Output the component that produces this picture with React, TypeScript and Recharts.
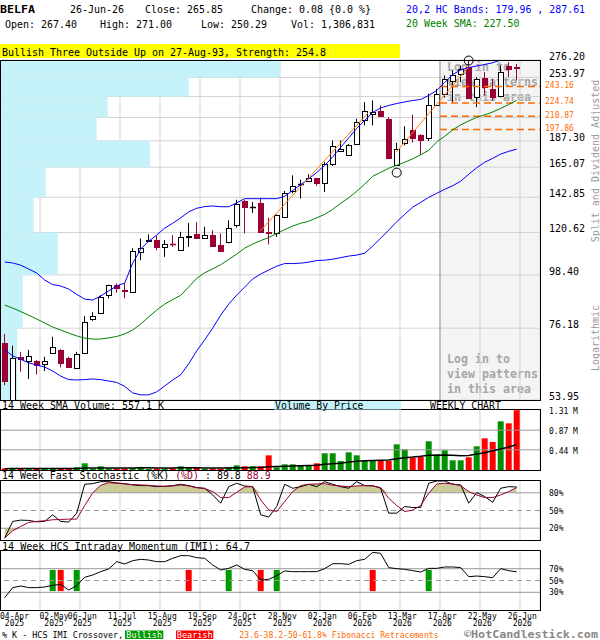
import React from "react";
import {
  ComposedChart,
  Bar,
  Line,
  Area,
  XAxis,
  YAxis,
  CartesianGrid,
  ReferenceArea,
  ReferenceLine,
  ReferenceDot,
  Cell,
} from "recharts";

const MONO = '"DejaVu Sans Mono", monospace';
const RED_CANDLE = "#990033";
const UP_GREEN = "#009000";
const DOWN_RED = "#ff0000";
const GRID = "#d3d3d3";
const RULE = "#999999";
const FIB = "#ff6a00";

// weekly candles, 04-Apr-2025 .. 26-Jun-2026
const opens = [
  71.1, 54.0, 66.4, 65.0, 65.1, 64.1, 67.5, 68.6, 65.9, 62.8,
  67.5, 79.7, 82.0, 89.5, 93.6, 91.5, 90.5, 110.0, 115.9, 116.3,
  112.3, 114.4, 110.8, 118.3, 119.7, 117.5, 119.1, 113.5, 115.0, 124.9,
  140.1, 136.2, 139.3, 121.0, 120.1, 129.9, 147.2, 151.9, 154.3, 156.5,
  152.7, 167.4, 178.7, 175.3, 184.8, 206.6, 212.7, 215.8, 207.6, 166.6,
  185.3, 197.7, 193.0, 190.3, 222.8, 234.1, 249.5, 258.5, 266.8, 230.7,
  253.6, 240.6, 232.9, 268.1, 267.4,
];
const highs = [
  74.1, 70.0, 68.0, 68.6, 65.4, 66.4, 73.1, 68.9, 66.4, 68.0,
  80.7, 82.2, 89.2, 93.9, 94.5, 94.5, 111.8, 117.2, 119.5, 118.7,
  116.3, 119.1, 121.0, 126.2, 126.8, 124.0, 122.0, 120.1, 127.9, 141.2,
  141.2, 139.6, 142.6, 129.6, 131.5, 147.2, 158.7, 155.5, 159.5, 156.7,
  169.2, 187.7, 187.7, 184.5, 208.3, 225.6, 227.4, 222.0, 209.9, 185.7,
  201.0, 212.4, 193.5, 234.9, 240.6, 256.4, 262.6, 269.0, 275.5, 254.3,
  260.5, 252.4, 269.0, 273.3, 271.0,
];
const lows = [
  57.9, 54.0, 61.8, 59.7, 61.0, 62.0, 67.3, 63.1, 63.1, 62.6,
  67.3, 78.9, 81.5, 87.9, 90.3, 87.9, 90.3, 105.6, 115.4, 110.8,
  107.3, 112.6, 110.6, 112.6, 117.4, 117.3, 113.0, 110.3, 114.5, 123.5,
  120.1, 132.5, 121.0, 113.9, 118.1, 129.5, 145.6, 142.0, 154.0, 150.9,
  146.5, 166.0, 178.5, 175.1, 184.5, 201.7, 201.7, 209.9, 172.5, 166.0,
  183.3, 185.7, 175.3, 187.1, 222.0, 230.7, 225.6, 248.3, 229.7, 220.2,
  232.9, 227.4, 230.7, 254.3, 250.29,
];
const closes = [
  59.2, 65.9, 65.8, 66.7, 63.8, 65.1, 69.5, 64.4, 63.3, 67.3,
  78.3, 80.7, 88.5, 93.6, 92.4, 90.9, 110.3, 111.8, 116.1, 112.3,
  113.9, 113.9, 118.1, 118.5, 117.6, 119.1, 113.2, 110.4, 123.5, 138.6,
  136.3, 136.4, 121.0, 120.4, 131.4, 145.6, 151.1, 152.1, 157.0, 152.7,
  167.9, 182.4, 180.5, 183.9, 204.9, 215.8, 215.0, 210.9, 172.5, 180.5,
  189.2, 189.8, 187.7, 222.8, 234.9, 252.4, 256.4, 264.8, 229.9, 252.4,
  242.4, 230.7, 261.3, 264.8, 265.85,
];
const upperBand = [
  104.7, 104.2, 103.1, 101.2, 99.3, 96.0, 93.9, 93.3, 91.9, 89.6,
  87.6, 87.2, 88.9, 91.1, 93.3, 94.6, 104.1, 111.3, 115.7, 119.1,
  123.2, 126.1, 129.4, 133.2, 135.5, 136.6, 137.0, 136.5, 136.5, 139.1,
  141.9, 141.9, 141.9, 141.9, 141.9, 143.5, 147.7, 151.7, 156.0, 160.9,
  166.3, 173.5, 181.6, 190.0, 198.9, 206.6, 214.7, 219.4, 222.0, 224.1,
  225.8, 227.4, 228.5, 232.9, 238.6, 247.9, 257.6, 263.2, 266.4, 268.3,
  270.3, 272.6, 276.2, 280.8, 287.61,
];
const lowerBand = [
  68.6, 66.7, 65.6, 64.5, 63.8, 63.2, 62.0, 60.5, 59.5, 59.4,
  59.5, 59.7, 59.5, 59.1, 58.7, 57.6, 55.8, 55.3, 55.3, 56.1,
  57.7, 59.4, 60.9, 64.2, 68.3, 72.0, 76.2, 81.1, 85.5, 89.3,
  92.8, 96.5, 98.8, 100.7, 102.6, 103.9, 103.9, 104.1, 104.6, 105.4,
  105.6, 106.1, 106.9, 107.7, 108.2, 109.2, 113.0, 117.4, 122.0, 127.0,
  131.6, 136.2, 139.4, 142.8, 145.6, 148.4, 151.0, 154.3, 159.5, 164.6,
  169.0, 172.2, 175.8, 178.1, 179.96,
];
const sma20 = [
  85.1, 83.9, 82.5, 81.1, 79.6, 78.1, 76.6, 75.5, 74.4, 73.4,
  72.6, 72.3, 72.3, 72.7, 73.2, 74.1, 75.5, 77.7, 80.4, 83.1,
  85.5, 87.4, 89.2, 92.8, 96.8, 99.4, 101.3, 103.3, 106.0, 108.7,
  111.9, 114.1, 116.0, 117.7, 120.0, 122.3, 124.4, 126.1, 127.3, 129.4,
  131.6, 134.8, 138.8, 142.5, 147.0, 152.1, 158.0, 161.0, 164.2, 166.6,
  169.0, 171.8, 175.2, 179.0, 186.4, 191.4, 197.5, 202.2, 206.1, 209.6,
  212.2, 215.2, 218.9, 223.1, 227.5,
];
// millions of shares
const volume = [
  0.036, 0.036, 0.029, 0.029, 0.029, 0.029, 0.029, 0.029, 0.029, 0.058,
  0.146, 0.029, 0.08, 0.029, 0.029, 0.029, 0.036, 0.058, 0.029, 0.029,
  0.029, 0.036, 0.08, 0.058, 0.058, 0.029, 0.029, 0.029, 0.058, 0.102,
  0.08, 0.08, 0.08, 0.32, 0.058, 0.124, 0.124, 0.109, 0.087, 0.146,
  0.365, 0.365, 0.196, 0.386, 0.321, 0.196, 0.196, 0.196, 0.196, 0.561,
  0.452, 0.269, 0.284, 0.627, 0.343, 0.43, 0.212, 0.212, 0.277, 0.517,
  0.692, 0.611, 1.063, 1.019, 1.307,
];
const volumeSma14 = [
  0.03, 0.031, 0.031, 0.031, 0.031, 0.031, 0.031, 0.031, 0.031, 0.033,
  0.041, 0.041, 0.045, 0.045, 0.045, 0.045, 0.045, 0.047, 0.047, 0.046,
  0.046, 0.046, 0.049, 0.05, 0.05, 0.045, 0.042, 0.042, 0.043, 0.048,
  0.05, 0.052, 0.055, 0.073, 0.075, 0.08, 0.087, 0.092, 0.097, 0.105,
  0.125, 0.138, 0.15, 0.172, 0.19, 0.204, 0.21, 0.214, 0.218, 0.247,
  0.27, 0.282, 0.299, 0.32, 0.322, 0.328, 0.322, 0.313, 0.318, 0.349,
  0.378, 0.42, 0.458, 0.5, 0.557,
];
const stochK = [
  3.4, 31.5, 33.7, 33.2, 30.9, 31.5, 42.7, 31.5, 30.4, 45.5,
  94.4, 95.5, 98.9, 98.9, 96.7, 95.5, 93.3, 92.2, 92.2, 90.4,
  91.0, 92.2, 94.4, 92.2, 88.8, 87.7, 76.4, 62.4, 90.4, 96.1,
  91.6, 90.4, 42.7, 38.8, 56.8, 94.4, 87.7, 90.4, 94.4, 90.4,
  98.9, 94.4, 90.4, 87.7, 98.9, 92.2, 92.2, 87.7, 45.5, 45.5,
  56.8, 55.1, 55.1, 96.1, 100, 100, 94.4, 93.3, 62.4, 80.3,
  73.6, 64.0, 87.7, 90.4, 89.8,
];
const stochD = [
  3.4, 15.7, 23.0, 29.8, 31.5, 32.6, 34.3, 34.8, 35.4, 35.4,
  58.5, 79.8, 92.7, 97.2, 96.1, 95.0, 93.9, 93.3, 92.7, 91.6,
  91.0, 91.6, 93.3, 91.6, 88.8, 87.1, 82.1, 71.9, 71.9, 80.9,
  89.9, 90.4, 68.0, 51.1, 48.3, 65.2, 82.1, 92.2, 94.4, 95.0,
  95.5, 92.7, 91.6, 90.4, 91.6, 92.2, 91.6, 88.8, 70.8, 58.5,
  48.3, 50.6, 58.5, 79.3, 95.0, 96.1, 95.0, 92.2, 82.1, 76.4,
  71.9, 71.9, 76.4, 82.1, 88.9,
];
const imi = [
  20.9, 37.9, 40.7, 37.9, 37.9, 39.0, 41.8, 43.5, 33.9, 41.2,
  55.4, 59.3, 65.0, 69.5, 81.9, 78.0, 83.6, 85.9, 84.7, 81.9,
  81.9, 87.6, 92.1, 92.1, 88.7, 87.6, 76.3, 67.8, 70.6, 76.3,
  68.9, 66.7, 50.8, 52.0, 58.2, 66.1, 65.0, 65.0, 65.0, 65.0,
  70.1, 78.5, 78.5, 77.4, 83.6, 85.9, 97.7, 96.0, 71.8, 70.1,
  68.9, 66.7, 64.4, 70.6, 70.6, 72.9, 72.9, 71.8, 56.5, 57.6,
  56.5, 54.8, 70.1, 66.7, 64.7,
];
const bullishWeeks = [6, 9, 28, 34, 53];
const bearishWeeks = [7, 23, 32, 46];

const priceTicks = [53.95, 76.18, 98.4, 120.62, 142.85, 165.07, 187.3, 209.52, 231.75, 253.97, 276.2];
const hiddenPriceLabels = [209.52, 231.75];
// volume by price, one value per band between price ticks (millions)
const vbpVolume = [1.73, 2.27, 5.77, 3.37, 4.57, 15.0, 9.67, 10.77, 18.87, 28.0];
const VBP_FULL_SCALE = 54;
const fibLevels = [243.16, 224.74, 210.87, 197.86];
const volumeTicks = [0.44, 0.87, 1.31];
const stochTicks = [20, 50, 80];
const imiTicks = [30, 50, 70];
const dateLabels = ["04-Apr", "02-May", "06-Jun", "11-Jul", "15-Aug", "19-Sep", "24-Oct", "28-Nov", "02-Jan", "06-Feb", "13-Mar", "17-Apr", "22-May", "26-Jun"];
const yearLabels = ["2025", "2025", "2025", "2025", "2025", "2025", "2025", "2025", "2026", "2026", "2026", "2026", "2026", "2026"];
const trendLines = [
  [{ x: 31.9, y: 121.3 }, { x: 45.4, y: 214.0 }],
  [{ x: 48.95, y: 177.5 }, { x: 57.95, y: 266.8 }],
];
const pivotMarks = [{ x: 49, y: 160.8 }, { x: 58, y: 275.5 }];

const X_DOMAIN: [number, number] = [-0.5875, 66.9125];
const gridWeeks = dateLabels.map((_, j) => X_DOMAIN[0] + j * 5);
const hiddenStart = gridWeeks[11];
// volume-by-price bars share the week axis: full scale spans the whole plot width
const vbpToWeeks = (v: number) => X_DOMAIN[0] + (v / VBP_FULL_SCALE) * (X_DOMAIN[1] - X_DOMAIN[0]);

const rows = opens.map((open, i) => {
  const signal = bullishWeeks.includes(i) || bearishWeeks.includes(i);
  return {
    i,
    open,
    high: highs[i],
    low: lows[i],
    close: closes[i],
    range: [lows[i], highs[i]],
    upper: upperBand[i],
    lower: lowerBand[i],
    sma: sma20[i],
    vol: volume[i],
    volSma: volumeSma14[i],
    k: stochK[i],
    d: stochD[i],
    over: [80, Math.max(80, stochD[i])],
    under: [Math.min(20, stochD[i]), 20],
    imi: imi[i],
    cross: signal ? [32, 68] : null,
    bull: bullishWeeks.includes(i),
  };
});

const renderCandle = (props: any) => {
  const { x, y, width, height, payload } = props;
  if (!payload || !Number.isFinite(y) || !Number.isFinite(height)) return <g />;
  const top = Math.min(y, y + height);
  const h = Math.abs(height);
  const { open, high, low, close } = payload;
  const span = Math.log(high / low) || 1;
  const at = (v: number) => top + (h * Math.log(high / v)) / span;
  const up = close >= open;
  const color = up ? "#000" : RED_CANDLE;
  const left = Math.round(x + width / 2 - 3) + 0.5;
  const wx = left + 2;
  const bTop = Math.round(at(Math.max(open, close))) + 0.5;
  const bBot = Math.round(at(Math.min(open, close))) + 0.5;
  return (
    <g>
      <line x1={wx} x2={wx} y1={top} y2={top + h} stroke={color} strokeWidth={1} />
      {bBot - bTop < 1 ? (
        <line x1={left - 0.5} x2={left + 5.5} y1={bTop} y2={bTop} stroke={color} strokeWidth={1.5} />
      ) : (
        <rect x={left} y={bTop} width={5} height={bBot - bTop} fill={up ? "#fff" : RED_CANDLE} stroke={color} strokeWidth={1} />
      )}
    </g>
  );
};

const PriceTick = (p: any) => {
  const v = p.payload.value;
  if (hiddenPriceLabels.includes(v)) return <g />;
  return (
    <text x={p.x + 1} y={p.y} fontSize={10} fontFamily={MONO} fill="#000">
      {v.toFixed(2)}
    </text>
  );
};
const VolumeTick = (p: any) => (
  <text x={p.x + 1} y={p.y + 4} fontSize={8} fontFamily={MONO} fill="#000">
    {p.payload.value.toFixed(2)} M
  </text>
);
const PctTick = (p: any) => (
  <text x={p.x + 1} y={p.y + 3} fontSize={8} fontFamily={MONO} fill="#000">
    {p.payload.value}%
  </text>
);
const DateTick = (p: any) => {
  const j = p.index ?? p.payload.index;
  const cx = j === 0 ? p.x + 14.5 : j === 1 ? p.x + 14 : p.x + 2.3;
  return (
    <g fontFamily={MONO} fontSize={8} fill="#000">
      <text x={cx} y={p.y + 0.8} textAnchor="middle">{dateLabels[j]}</text>
      <text x={cx} y={p.y + 8.3} textAnchor="middle">{yearLabels[j]}</text>
    </g>
  );
};
const FibLabel = (p: any) => {
  const vb = p.viewBox || {};
  return (
    <text x={(vb.x || 0) + (vb.width || 0) + 5} y={(vb.y || 0) + 1.5} fontSize={8} fontFamily={MONO} fill={FIB}>
      {p.value}
    </text>
  );
};

const weekAxis = (hide: boolean, extra: any = {}) => (
  <XAxis dataKey="i" type="number" domain={X_DOMAIN} ticks={gridWeeks} interval={0} hide={hide} {...extra} />
);

const PriceChart = () => (
  <ComposedChart width={600} height={410} data={rows} margin={{ top: 60, right: 0, bottom: 10, left: 0 }}>
    <CartesianGrid stroke={GRID} />
    {weekAxis(true)}
    <YAxis
      orientation="right"
      type="number"
      scale="log"
      domain={[53.95, 276.2]}
      allowDataOverflow
      ticks={priceTicks}
      interval={0}
      width={60}
      axisLine={false}
      tickLine={false}
      tick={PriceTick}
    />
    {vbpVolume.map((v, n) => (
      <ReferenceArea
        key={`vbp${n}`}
        x1={X_DOMAIN[0]}
        x2={vbpToWeeks(v)}
        y1={priceTicks[n]}
        y2={priceTicks[n + 1]}
        fill="#c6f3fa"
        fillOpacity={1}
        stroke="none"
      />
    ))}
    <ReferenceLine x={hiddenStart} stroke={RULE} />
    {fibLevels.map((f) => (
      <ReferenceLine
        key={`fib${f}`}
        segment={[{ x: hiddenStart, y: f }, { x: X_DOMAIN[1], y: f }]}
        stroke={FIB}
        strokeWidth={1.5}
        strokeDasharray="7 4"
        label={<FibLabel value={f.toFixed(2)} />}
      />
    ))}
    <Line dataKey="upper" stroke="#0000ff" strokeWidth={1} dot={false} isAnimationActive={false} />
    <Line dataKey="lower" stroke="#0000ff" strokeWidth={1} dot={false} isAnimationActive={false} />
    <Line dataKey="sma" stroke="#008000" strokeWidth={1} dot={false} isAnimationActive={false} />
    {trendLines.map((seg, n) => (
      <ReferenceLine key={`tl${n}`} segment={seg} stroke="#ff7a1a" strokeWidth={1} />
    ))}
    <Bar dataKey="range" barSize={6} shape={renderCandle} isAnimationActive={false} />
    {pivotMarks.map((m, n) => (
      <ReferenceDot key={`pv${n}`} x={m.x} y={m.y} r={4.5} fill="none" stroke="#000" strokeWidth={1} ifOverflow="visible" />
    ))}
  </ComposedChart>
);

const VolumeChart = () => (
  <ComposedChart width={600} height={70} data={rows} margin={{ top: 10, right: 0, bottom: 0, left: 0 }}>
    <CartesianGrid stroke={GRID} horizontal={false} />
    {weekAxis(true)}
    <YAxis
      orientation="right"
      type="number"
      domain={[0, 1.31]}
      allowDataOverflow
      ticks={volumeTicks}
      interval={0}
      width={60}
      axisLine={false}
      tickLine={false}
      tick={VolumeTick}
    />
    {volumeTicks.slice(0, 2).map((v) => (
      <ReferenceLine key={`vl${v}`} y={v} stroke={RULE} />
    ))}
    <Bar dataKey="vol" barSize={6} isAnimationActive={false}>
      {rows.map((r) => (
        <Cell key={`vc${r.i}`} fill={r.close >= r.open ? UP_GREEN : DOWN_RED} />
      ))}
    </Bar>
    <Line dataKey="volSma" stroke="#000" strokeWidth={1.5} dot={false} isAnimationActive={false} />
  </ComposedChart>
);

const StochChart = () => (
  <ComposedChart width={600} height={70} data={rows} margin={{ top: 11, right: 0, bottom: 0, left: 0 }}>
    <CartesianGrid stroke={GRID} horizontal={false} />
    {weekAxis(true)}
    <YAxis
      orientation="right"
      type="number"
      domain={[0, 100]}
      ticks={stochTicks}
      interval={0}
      width={60}
      axisLine={false}
      tickLine={false}
      tick={PctTick}
    />
    <ReferenceLine y={20} stroke={RULE} />
    <ReferenceLine y={80} stroke={RULE} />
    <ReferenceLine y={50} stroke={RULE} strokeDasharray="5 4" />
    <Area dataKey="over" fill="#cccc99" fillOpacity={1} stroke="none" isAnimationActive={false} />
    <Area dataKey="under" fill="#cccc99" fillOpacity={1} stroke="none" isAnimationActive={false} />
    <Line dataKey="k" stroke="#000" strokeWidth={1} dot={false} isAnimationActive={false} />
    <Line dataKey="d" stroke={RED_CANDLE} strokeWidth={1} dot={false} isAnimationActive={false} />
  </ComposedChart>
);

const ImiChart = () => (
  <ComposedChart width={600} height={100} data={rows} margin={{ top: 11, right: 0, bottom: 0, left: 0 }}>
    <CartesianGrid stroke={GRID} horizontal={false} />
    {weekAxis(false, { height: 30, axisLine: false, tickLine: false, tick: DateTick })}
    <YAxis
      orientation="right"
      type="number"
      domain={[0, 100]}
      ticks={imiTicks}
      interval={0}
      width={60}
      axisLine={false}
      tickLine={false}
      tick={PctTick}
    />
    <ReferenceLine y={30} stroke={RULE} />
    <ReferenceLine y={70} stroke={RULE} />
    <ReferenceLine y={50} stroke={RULE} strokeDasharray="5 4" />
    <Bar dataKey="cross" barSize={6} isAnimationActive={false}>
      {rows.map((r) => (
        <Cell key={`ic${r.i}`} fill={r.bull ? "#009900" : DOWN_RED} />
      ))}
    </Bar>
    <Line dataKey="imi" stroke="#000" strokeWidth={1} dot={false} isAnimationActive={false} />
  </ComposedChart>
);

const T = ({ x, y, s, size = 10, cw = 6, ...rest }: any) => (
  <text x={x} y={y} fontSize={size} textLength={s.length * cw} lengthAdjust="spacingAndGlyphs" {...rest}>
    {s}
  </text>
);

const BackLayer = () => (
  <svg width={600} height={640} style={{ position: "absolute", left: 0, top: 0 }} fontFamily={MONO}>
    <rect x={440} y={60} width={100} height={340} fill="#f4f4f4" />
    <g fill="#a6a6a6" fontWeight="bold">
      <T x={447} y={71} s="Log in to" size={11.5} cw={7} />
      <T x={447} y={86} s="view patterns" size={11.5} cw={7} />
      <T x={447} y={101} s="in this area" size={11.5} cw={7} />
      <T x={447} y={363} s="Log in to" size={11.5} cw={7} />
      <T x={447} y={378} s="view patterns" size={11.5} cw={7} />
      <T x={447} y={393} s="in this area" size={11.5} cw={7} />
    </g>
  </svg>
);

const STOCH_CW = 5.97;

const FrontLayer = () => (
  <svg width={600} height={640} style={{ position: "absolute", left: 0, top: 0, pointerEvents: "none" }} fontFamily={MONO}>
    <g fill="#000">
      <T x={0} y={13} s="BELFA" size={11} cw={7} fontWeight="bold" />
      <T x={70} y={13} s="26-Jun-26" size={11} />
      <T x={145} y={13} s="Close: 265.85" size={11} />
      <T x={251} y={13} s="Change: 0.08 {0.0 %}" size={11} />
      <T x={5} y={28} s="Open: 267.40" size={11} />
      <T x={100} y={28} s="High: 271.00" size={11} />
      <T x={201} y={28} s="Low: 250.29" size={11} />
      <T x={291} y={28} s="Vol: 1,306,831" size={11} />
    </g>
    <T x={406} y={12.5} s="20,2 HC Bands: 179.96 , 287.61" size={10.5} cw={5.97} fill="#0000ff" />
    <T x={406} y={26.5} s="20 Week SMA: 227.50" size={10.5} cw={5.97} fill="#008000" />
    <rect x={0} y={44} width={400} height={14} fill="#ffff00" />
    <T x={2} y={55.5} s="Bullish Three Outside Up on 27-Aug-93, Strength: 254.8" size={10.5} cw={6} fill="#000" />

    <rect x={0.5} y={60.5} width={540} height={340} fill="none" stroke="#000" />
    <rect x={0.5} y={409.5} width={540} height={61} fill="none" stroke="#000" />
    <rect x={0.5} y={480.5} width={540} height={60} fill="none" stroke="#000" />
    <rect x={0.5} y={550.5} width={540} height={60} fill="none" stroke="#000" />

    <T x={2} y={408.5} s="14 Week SMA Volume: 557.1 K" fill="#000" />
    <rect x={274} y={401} width={127} height={8.5} fill="#c6f3fa" />
    <T x={275} y={408.5} s="Volume By Price" cw={5.9} fill="#000" />
    <T x={430} y={408.5} s="WEEKLY CHART" cw={5.9} fill="#000" />

    <T x={2} y={479} s="14 Week Fast Stochastic (%K)" cw={STOCH_CW} fill="#000" />
    <T x={2 + 29 * STOCH_CW} y={479} s="(%D)" cw={STOCH_CW} fill={RED_CANDLE} />
    <T x={2 + 34 * STOCH_CW} y={479} s=": 89.8" cw={STOCH_CW} fill="#000" />
    <T x={2 + 41 * STOCH_CW} y={479} s="88.9" cw={STOCH_CW} fill={RED_CANDLE} />
    <T x={2} y={549.5} s="14 Week HCS Intraday Momentum (IMI): 64.7" cw={6.05} fill="#000" />

    <g fill="#999999" fontSize={10}>
      <text transform="translate(598.5,161) rotate(-90)" textAnchor="middle">Split and Dividend Adjusted</text>
      <text transform="translate(598.5,338) rotate(-90)" textAnchor="middle">Logarithmic</text>
    </g>

    <T x={2} y={638} s="% K - HCS IMI Crossover," size={8.5} cw={5.05} fill="#000" />
    <rect x={125} y={630.5} width={38.3} height={8.5} fill="#009900" />
    <text x={144.2} y={638} fontSize={8.5} textAnchor="middle" fill="#fff">Bullish</text>
    <rect x={176} y={630.5} width={37.3} height={8.5} fill="#ff0000" />
    <text x={194.7} y={638} fontSize={8.5} textAnchor="middle" fill="#fff">Bearish</text>
    <T x={239.3} y={638} s="23.6-38.2-50-61.8% Fibonacci Retracements" size={8} cw={4.86} fill={FIB} />
    <T x={464} y={638.3} s="©HotCandlestick.com" size={10.5} cw={7.05} fontWeight="bold" fill="#888888" />
  </svg>
);

export default function App() {
  return (
    <div style={{ position: "absolute", left: 0, top: 0, width: 600, height: 640, background: "#fff", overflow: "hidden" }}>
      <BackLayer />
      <div style={{ position: "absolute", left: 0, top: 0 }}>
        <PriceChart />
      </div>
      <div style={{ position: "absolute", left: 0, top: 400 }}>
        <VolumeChart />
      </div>
      <div style={{ position: "absolute", left: 0, top: 470 }}>
        <StochChart />
      </div>
      <div style={{ position: "absolute", left: 0, top: 540 }}>
        <ImiChart />
      </div>
      <FrontLayer />
    </div>
  );
}
